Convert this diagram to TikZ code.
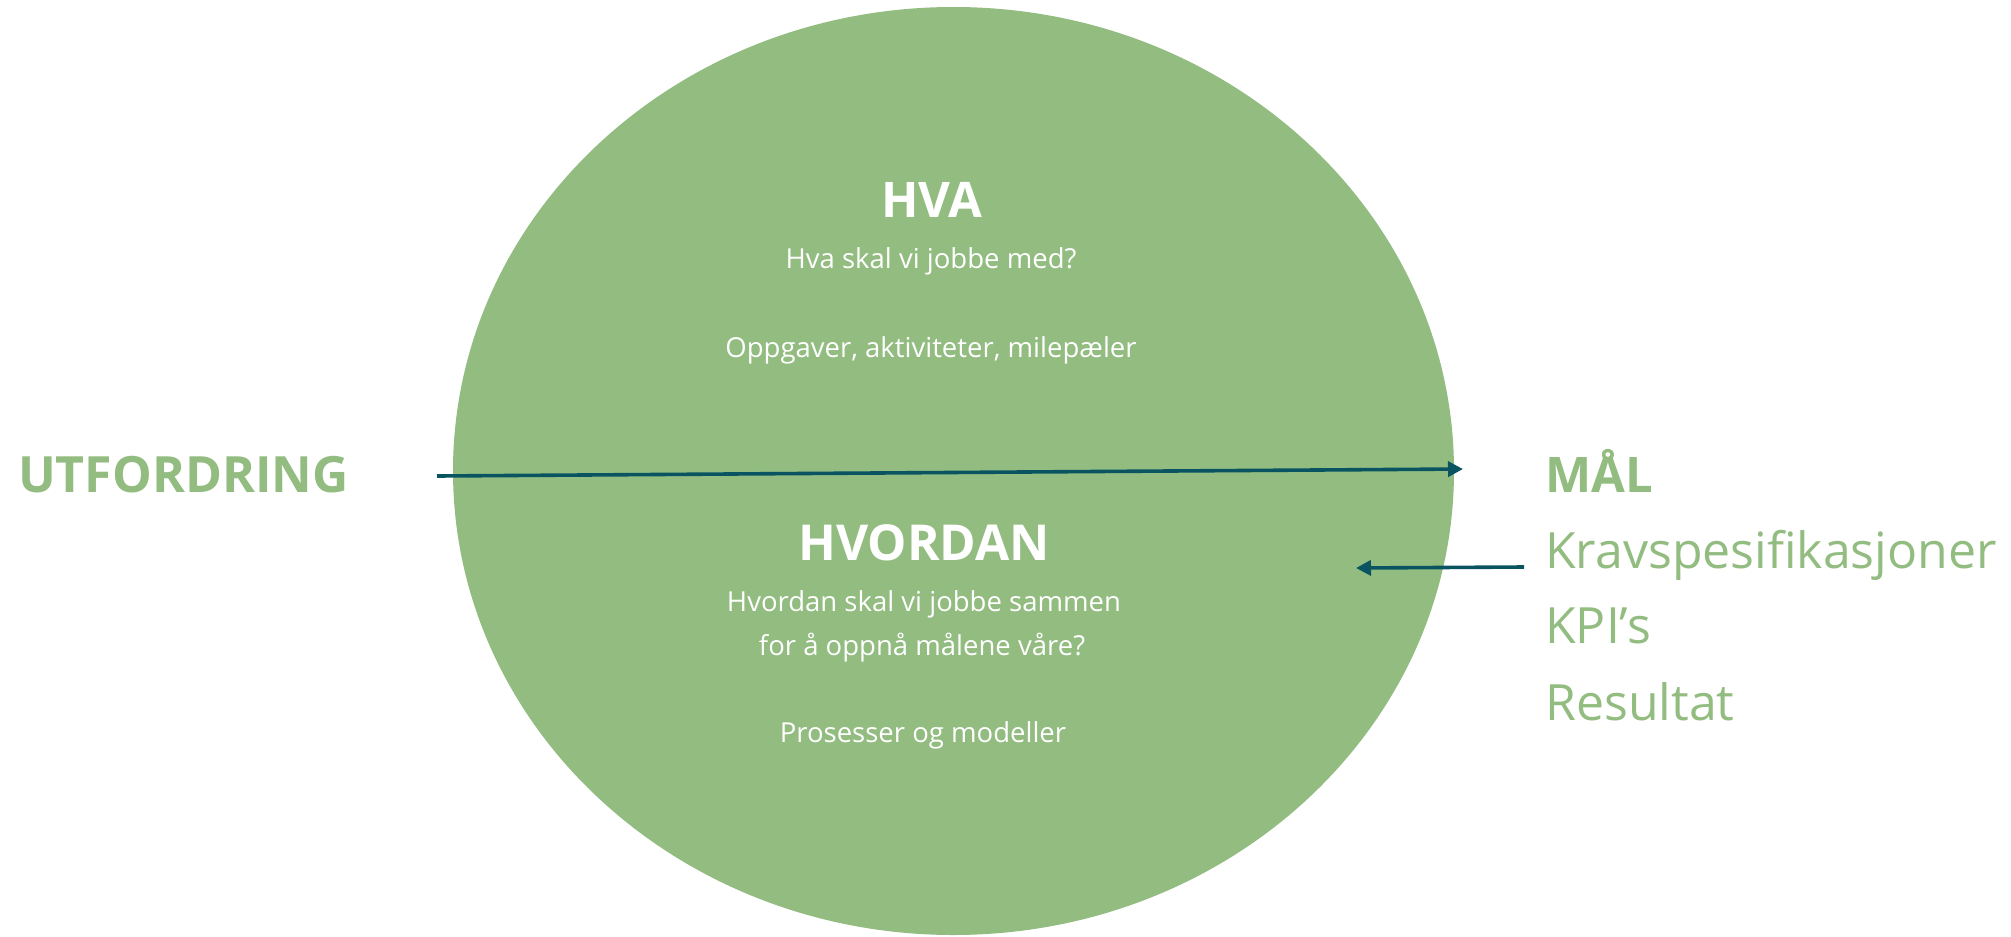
\documentclass[tikz,border=0pt]{standalone}
\usepackage{fontspec}
\setmainfont{Open Sans}
\usetikzlibrary{arrows.meta}
\definecolor{leaf}{RGB}{146,188,128}
\definecolor{teal}{RGB}{10,84,98}
\begin{document}
\begin{tikzpicture}[x=1pt,y=-1pt,
  bigtxt/.style={font=\fontsize{50}{60}\selectfont, inner sep=0pt},
  smalltxt/.style={font=\fontsize{27.5}{33}\selectfont, inner sep=0pt, text=white, anchor=base},
  conn/.style={draw=teal, line width=3.6pt, -{Triangle[length=15pt,width=15pt]}}]
\useasboundingbox (0,0) rectangle (2011,937);
\fill[leaf] (953.5,471) ellipse [x radius=500.5, y radius=464];
% inner texts
\node[smalltxt, font=\bfseries\fontsize{49}{60}\selectfont] (hva) at (932,217) {HVA};
\node[smalltxt] (hvaq) at (931,268) {Hva skal vi jobbe med?};
\node[smalltxt] (hval) at (931,357) {Oppgaver, aktiviteter, milepæler};
\node[smalltxt, font=\bfseries\fontsize{49.5}{60}\selectfont] (hvordan) at (924,560) {HVORDAN};
\node[smalltxt] (hvq1) at (924,611) {Hvordan skal vi jobbe sammen};
\node[smalltxt] (hvq2) at (922,655) {for å oppnå målene våre?};
\node[smalltxt] (hvl) at (923,742) {Prosesser og modeller};
% outer texts
\node[bigtxt, font=\bfseries\fontsize{50}{60}\selectfont, text=leaf, anchor=base west] (utf) at (18,492) {UTFORDRING};
\node[bigtxt, font=\bfseries\fontsize{49}{60}\selectfont, text=leaf, anchor=base west] (maal) at (1545,492) {MÅL};
\node[bigtxt, text=leaf, anchor=base west] (krav) at (1545,568) {Kravspesifikasjoner};
\node[bigtxt, text=leaf, anchor=base west] (kpi) at (1545,643) {KPI’s};
\node[bigtxt, text=leaf, anchor=base west] (res) at (1545,720) {Resultat};
% connectors
\coordinate (a1s) at (437,476);
\coordinate (a1e) at (1463,469);
\coordinate (a2s) at (1524,567);
\coordinate (a2e) at (1356,568);
\draw[conn] (a1s) -- (a1e);
\draw[conn] (a2s) -- (a2e);
\end{tikzpicture}
\end{document}
